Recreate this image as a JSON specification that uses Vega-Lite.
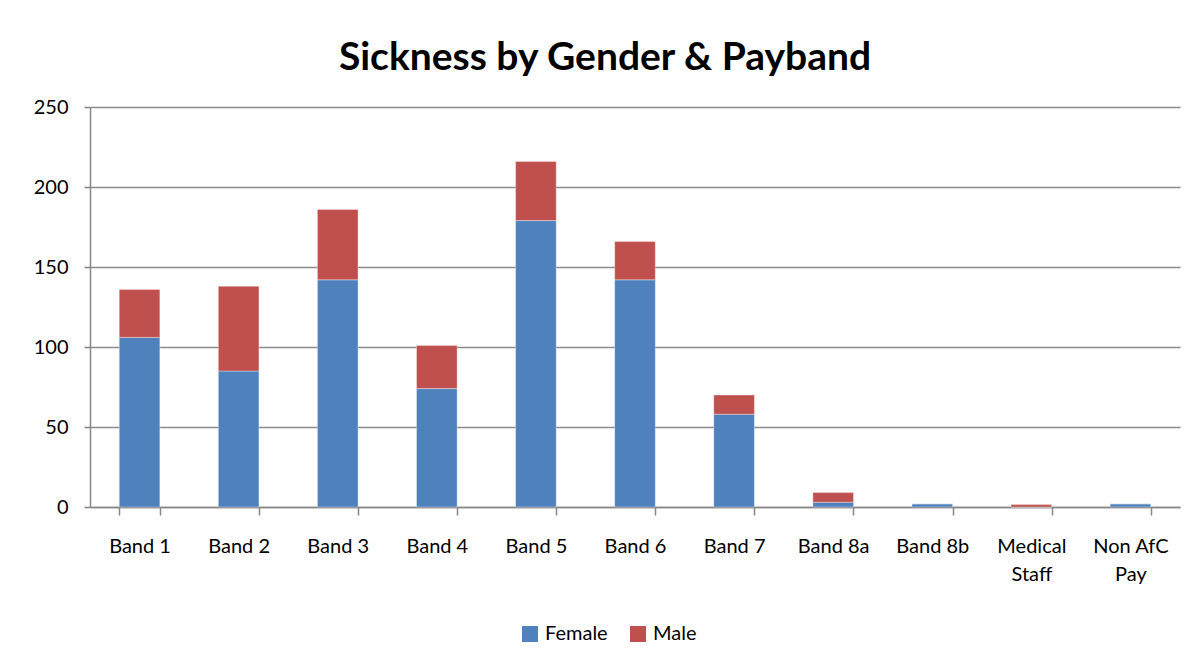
{
  "$schema": "https://vega.github.io/schema/vega-lite/v6.json",
  "autosize": "none",
  "width": 1090,
  "height": 400,
  "padding": {"left": 90, "top": 107, "right": 15, "bottom": 157},
  "background": "white",
  "title": {
    "text": "Sickness by Gender & Payband",
    "font": "Lato",
    "fontSize": 39,
    "fontWeight": "bold",
    "color": "#000000",
    "anchor": "middle",
    "dx": -30,
    "offset": 19
  },
  "data": {
    "values": [
      {"band": "Band 1", "gender": "Female", "count": 106},
      {"band": "Band 1", "gender": "Male", "count": 30},
      {"band": "Band 2", "gender": "Female", "count": 85},
      {"band": "Band 2", "gender": "Male", "count": 53},
      {"band": "Band 3", "gender": "Female", "count": 142},
      {"band": "Band 3", "gender": "Male", "count": 44},
      {"band": "Band 4", "gender": "Female", "count": 74},
      {"band": "Band 4", "gender": "Male", "count": 27},
      {"band": "Band 5", "gender": "Female", "count": 179},
      {"band": "Band 5", "gender": "Male", "count": 37},
      {"band": "Band 6", "gender": "Female", "count": 142},
      {"band": "Band 6", "gender": "Male", "count": 24},
      {"band": "Band 7", "gender": "Female", "count": 58},
      {"band": "Band 7", "gender": "Male", "count": 12},
      {"band": "Band 8a", "gender": "Female", "count": 3},
      {"band": "Band 8a", "gender": "Male", "count": 6},
      {"band": "Band 8b", "gender": "Female", "count": 2},
      {"band": "Band 8b", "gender": "Male", "count": 0},
      {"band": "Medical Staff", "gender": "Female", "count": 0},
      {"band": "Medical Staff", "gender": "Male", "count": 1.5},
      {"band": "Non AfC Pay", "gender": "Female", "count": 2},
      {"band": "Non AfC Pay", "gender": "Male", "count": 0}
    ]
  },
  "mark": {"type": "bar", "stroke": "#ffffff", "strokeOpacity": 0.35, "strokeWidth": 1},
  "encoding": {
    "x": {
      "field": "band",
      "type": "nominal",
      "sort": null,
      "scale": {"paddingInner": 0.59, "paddingOuter": 0.295},
      "axis": {
        "title": null,
        "labelAngle": 0,
        "labelFont": "Lato",
        "labelFontSize": 20,
        "labelColor": "#000000",
        "labelPadding": 21,
        "labelLineHeight": 28,
        "labelBaseline": "top",
        "labelExpr": "datum.value == 'Medical Staff' ? ['Medical', 'Staff'] : datum.value == 'Non AfC Pay' ? ['Non AfC', 'Pay'] : datum.value",
        "domainColor": "#868686",
        "domainWidth": 1.5,
        "tickColor": "#868686",
        "tickWidth": 1.5,
        "tickSize": 8,
        "tickBand": "extent",
        "grid": false
      }
    },
    "y": {
      "field": "count",
      "type": "quantitative",
      "aggregate": "sum",
      "stack": "zero",
      "scale": {"domain": [0, 250], "nice": false},
      "axis": {
        "title": null,
        "values": [0, 50, 100, 150, 200, 250],
        "labelFont": "Lato",
        "labelFontSize": 20,
        "labelColor": "#000000",
        "labelPadding": 16,
        "domainColor": "#868686",
        "domainWidth": 1.5,
        "tickColor": "#868686",
        "tickWidth": 1.5,
        "tickSize": 6,
        "grid": true,
        "gridColor": "#8c8c8c",
        "gridWidth": 1.5
      }
    },
    "color": {
      "field": "gender",
      "type": "nominal",
      "scale": {"domain": ["Female", "Male"], "range": ["#4F81BD", "#C0504D"]},
      "legend": {
        "title": null,
        "orient": "none",
        "direction": "horizontal",
        "legendX": 430,
        "legendY": 517,
        "symbolType": "square",
        "symbolSize": 256,
        "symbolStrokeWidth": 0,
        "labelFont": "Lato",
        "labelFontSize": 20,
        "labelColor": "#000000",
        "columnPadding": 20,
        "labelOffset": 5
      }
    },
    "order": {"field": "gender", "sort": "ascending"}
  },
  "config": {"view": {"stroke": null}}
}
